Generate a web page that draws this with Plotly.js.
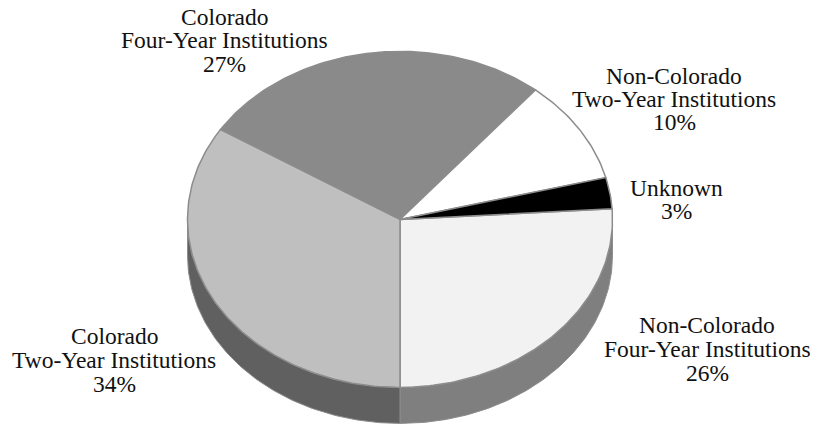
<!DOCTYPE html>
<html><head><meta charset="utf-8">
<script src="https://cdn.plot.ly/plotly-3.0.1.min.js"></script>
<style>html,body{margin:0;padding:0;background:#fff}#c{width:816px;height:427px}</style>
</head><body><div id="c"></div>
<script>
// Data, clockwise from the first slice
const categories = ["Non-Colorado Four-Year Institutions","Colorado Two-Year Institutions","Colorado Four-Year Institutions","Non-Colorado Two-Year Institutions","Unknown"];
const shares = [26, 34, 27, 10, 3];
const topColors = ["#f2f2f2","#bfbfbf","#8a8a8a","#ffffff","#000000"];
const sideColors = ["#7f7f7f","#606060"];
const labelLines = [
  ["Non-Colorado","Four-Year Institutions","26%"],
  ["Colorado","Two-Year Institutions","34%"],
  ["Colorado","Four-Year Institutions","27%"],
  ["Non-Colorado","Two-Year Institutions","10%"],
  ["Unknown","3%"]
];
const labelX = [707, 114, 224, 674, 676];
const labelY = [[325,349,373],[336,360,384],[17,40,64],[76,99,122],[188,211]];

// Projection of the tilted disc
const cx=400, cy=219.4, rx=212.5, ry=168, depth=36, startAngle=86.4;
const px=a=>cx+rx*Math.sin(a*Math.PI/180);
const py=(a,d)=>cy-ry*Math.cos(a*Math.PI/180)+(d||0);
const arc=(a0,a1,d)=>{const n=Math.max(2,Math.ceil(Math.abs(a1-a0))),xs=[],ys=[];
  for(let i=0;i<=n;i++){const a=a0+(a1-a0)*i/n;xs.push(px(a));ys.push(py(a,d));}return [xs,ys];};

const traces=[];
const edge="#8c8c8c";
// side walls
[[90,180,0],[180,270,1]].forEach(([a0,a1,k])=>{
  const [x0,y0]=arc(a0,a1,0),[x1,y1]=arc(a1,a0,depth);
  traces.push({type:"scatter",mode:"lines",fill:"toself",fillcolor:sideColors[k],
    x:x0.concat(x1,[x0[0]]),y:y0.concat(y1,[y0[0]]),line:{color:edge,width:1},hoverinfo:"skip"});
});
// top slices
const total=shares.reduce((a,b)=>a+b,0);
let ang=startAngle;
shares.forEach((v,i)=>{
  const sweep=v/total*360,[xs,ys]=arc(ang,ang+sweep,0);
  traces.push({type:"scatter",mode:"lines",fill:"toself",fillcolor:topColors[i],name:categories[i],
    x:[cx].concat(xs,[cx]),y:[cy].concat(ys,[cy]),line:{color:edge,width:1.5},hoverinfo:"skip"});
  ang+=sweep;
});
const annotations=[];
labelLines.forEach((lines,i)=>lines.forEach((t,j)=>annotations.push({
  text:t,x:labelX[i],y:labelY[i][j],xref:"x",yref:"y",showarrow:false,xanchor:"center",yanchor:"middle",
  font:{family:"'Liberation Serif',serif",size:23.5,color:"#111"}})));
Plotly.newPlot("c",traces,{
  width:816,height:427,margin:{l:0,r:0,t:0,b:0},showlegend:false,
  paper_bgcolor:"#fff",plot_bgcolor:"#fff",
  xaxis:{range:[0,816],visible:false,fixedrange:true},
  yaxis:{range:[427,0],visible:false,fixedrange:true},
  annotations
},{displayModeBar:false,staticPlot:true});
</script></body></html>
